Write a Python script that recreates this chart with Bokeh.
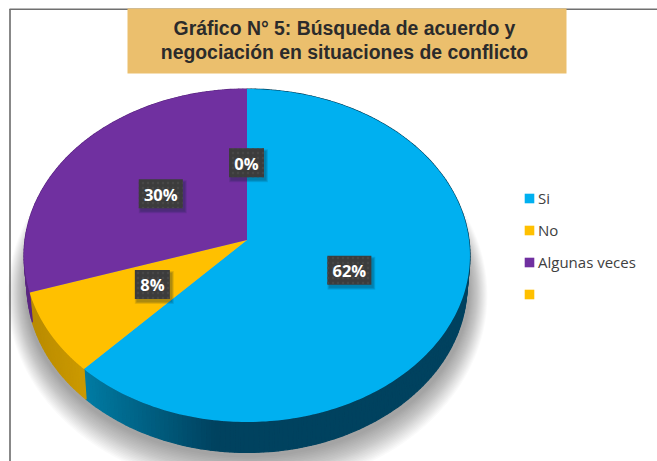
import numpy as np
from bokeh.plotting import figure
from bokeh.models import Range1d, Legend, LegendItem
from bokeh.core.properties import value
from bokeh.embed import file_html
from bokeh.resources import INLINE

categories = ["Si", "No", "Algunas veces", ""]
shares = [62, 8, 30, 0]
labels = ["62%", "8%", "30%", "0%"]
colors = ["#00b0f0", "#ffc000", "#7030a0", "#ffc000"]
title_lines = ["Gráfico N° 5: Búsqueda de acuerdo y",
               "negociación en situaciones de conflicto"]

p = figure(width=657, height=461, output_backend="svg", toolbar_location=None,
           x_range=Range1d(0, 657), y_range=Range1d(461, 0),
           min_border=0, outline_line_color=None, background_fill_color="white")
p.axis.visible = False
p.grid.visible = False

# perspective projection of the pie disc
CX, CY, D, B, C = 246.5, 239.5, 222.0, 165.05, -0.0931
# offset of the lower rim
KX, ELL_CY, DROP, KY = 0.987, 256.0, 29.5, 1.006


def project(theta, r=1.0):
    u, v = r * np.sin(theta), -r * np.cos(theta)
    den = 1 + C * v
    return CX + D * u / den, CY + B * v / den


def lower(x, y):
    return CX + (x - CX) * KX, ELL_CY + (y - ELL_CY) * KY + DROP


# soft shadow
n_sh = 20
for i in range(n_sh):
    t = i / (n_sh - 1)
    p.ellipse(x=[247], y=[291 + 4 * (1 - t)], width=[2 * (222 + 18 * (1 - t))],
              height=[2 * (166 + 28 * (1 - t))], fill_color="#000000",
              fill_alpha=0.019, line_color=None)


def mix(a, b, t):
    ca = [int(a[i:i + 2], 16) for i in (1, 3, 5)]
    cb = [int(b[i:i + 2], 16) for i in (1, 3, 5)]
    return "#%02x%02x%02x" % tuple(int(round(x + (y - x) * t)) for x, y in zip(ca, cb))


# rim and top faces
fractions = np.cumsum([0] + shares) / sum(shares)
xs_side, ys_side, c_side = [], [], []
for i in range(3):
    a0, a1 = 2 * np.pi * fractions[i], 2 * np.pi * fractions[i + 1]
    steps = max(2, int((a1 - a0) / 0.02))
    th = np.linspace(a0, a1, steps + 1)
    for j in range(steps):
        x0, y0 = project(th[j])
        x1, y1 = project(th[j + 1])
        lx0, ly0 = lower(x0, y0)
        lx1, ly1 = lower(x1, y1)
        xm = (x0 + x1) / 2
        if i == 0:
            col = mix("#007ba3", "#00425f", float(np.clip((xm - 84) / 130, 0, 1)))
        elif i == 1:
            col = mix("#b98b00", "#cc9a00", float(np.clip((xm - 29) / 55, 0, 1)))
        else:
            col = "#5a2680"
        xs_side.append([x0, x1, lx1, lx0])
        ys_side.append([y0, y1, ly1, ly0])
        c_side.append(col)
p.patches(xs_side, ys_side, fill_color=c_side, line_color=c_side, line_width=1.2)

renderers = []
for i, col in enumerate(colors):
    a0, a1 = 2 * np.pi * fractions[i], 2 * np.pi * fractions[i + 1]
    th = np.linspace(a0, a1, 240)
    ex, ey = project(th)
    xs = np.concatenate([[CX], ex])
    ys = np.concatenate([[CY], ey])
    renderers.append(p.patch(xs, ys, fill_color=col, line_color=None))

# data labels
mid = 2 * np.pi * (fractions[:-1] + fractions[1:]) / 2
lx, ly = project(mid, 0.49)
lx = lx - 0.5
box_w = [17 + 9 * len(s) for s in labels]
for k in range(5):
    p.rect(lx + 2, ly + 3, width=[w + 4 - k for w in box_w], height=[33 - k] * 4,
           fill_color="#102030", fill_alpha=0.08, line_color=None)
p.rect(lx, ly, width=box_w, height=[29] * 4, fill_color="#3c3c3c", line_color=None,
       hatch_pattern="dot", hatch_color="#474747", hatch_scale=5, hatch_weight=1)
p.text(lx, ly + 0.5, text=labels, text_color="#ffffff", text_font=value("Open Sans"),
       text_font_style="bold", text_font_size="16.5px", text_align="center",
       text_baseline="middle")

# frame lines of the source page
p.line([9.5, 9.5], [8.5, 461], line_color="#606060", line_width=1.5)
p.line([9, 657], [8.8, 8.8], line_color="#707070", line_width=1.6)

# title banner
p.quad(left=[127], right=[566], top=[8], bottom=[73], fill_color="#ebbf6d", line_color=None)
p.text([344, 344], [27.5, 51], text=title_lines, text_color="#2b2b2b",
       text_font=value("Liberation Sans"), text_font_style="bold", text_font_size="19.4px",
       text_align="center", text_baseline="middle")

legend = Legend(items=[LegendItem(label=value(c), renderers=[r]) for c, r in zip(categories, renderers)],
                location=(523, 156.5), border_line_color=None, background_fill_alpha=0,
                margin=0, padding=0, spacing=10, glyph_width=12, glyph_height=12,
                label_height=22, label_standoff=3, label_text_font="Open Sans",
                label_text_font_size="15px", label_text_color="#404040")
p.add_layout(legend, "center")

open("out.html", "w").write(file_html(p, INLINE))
